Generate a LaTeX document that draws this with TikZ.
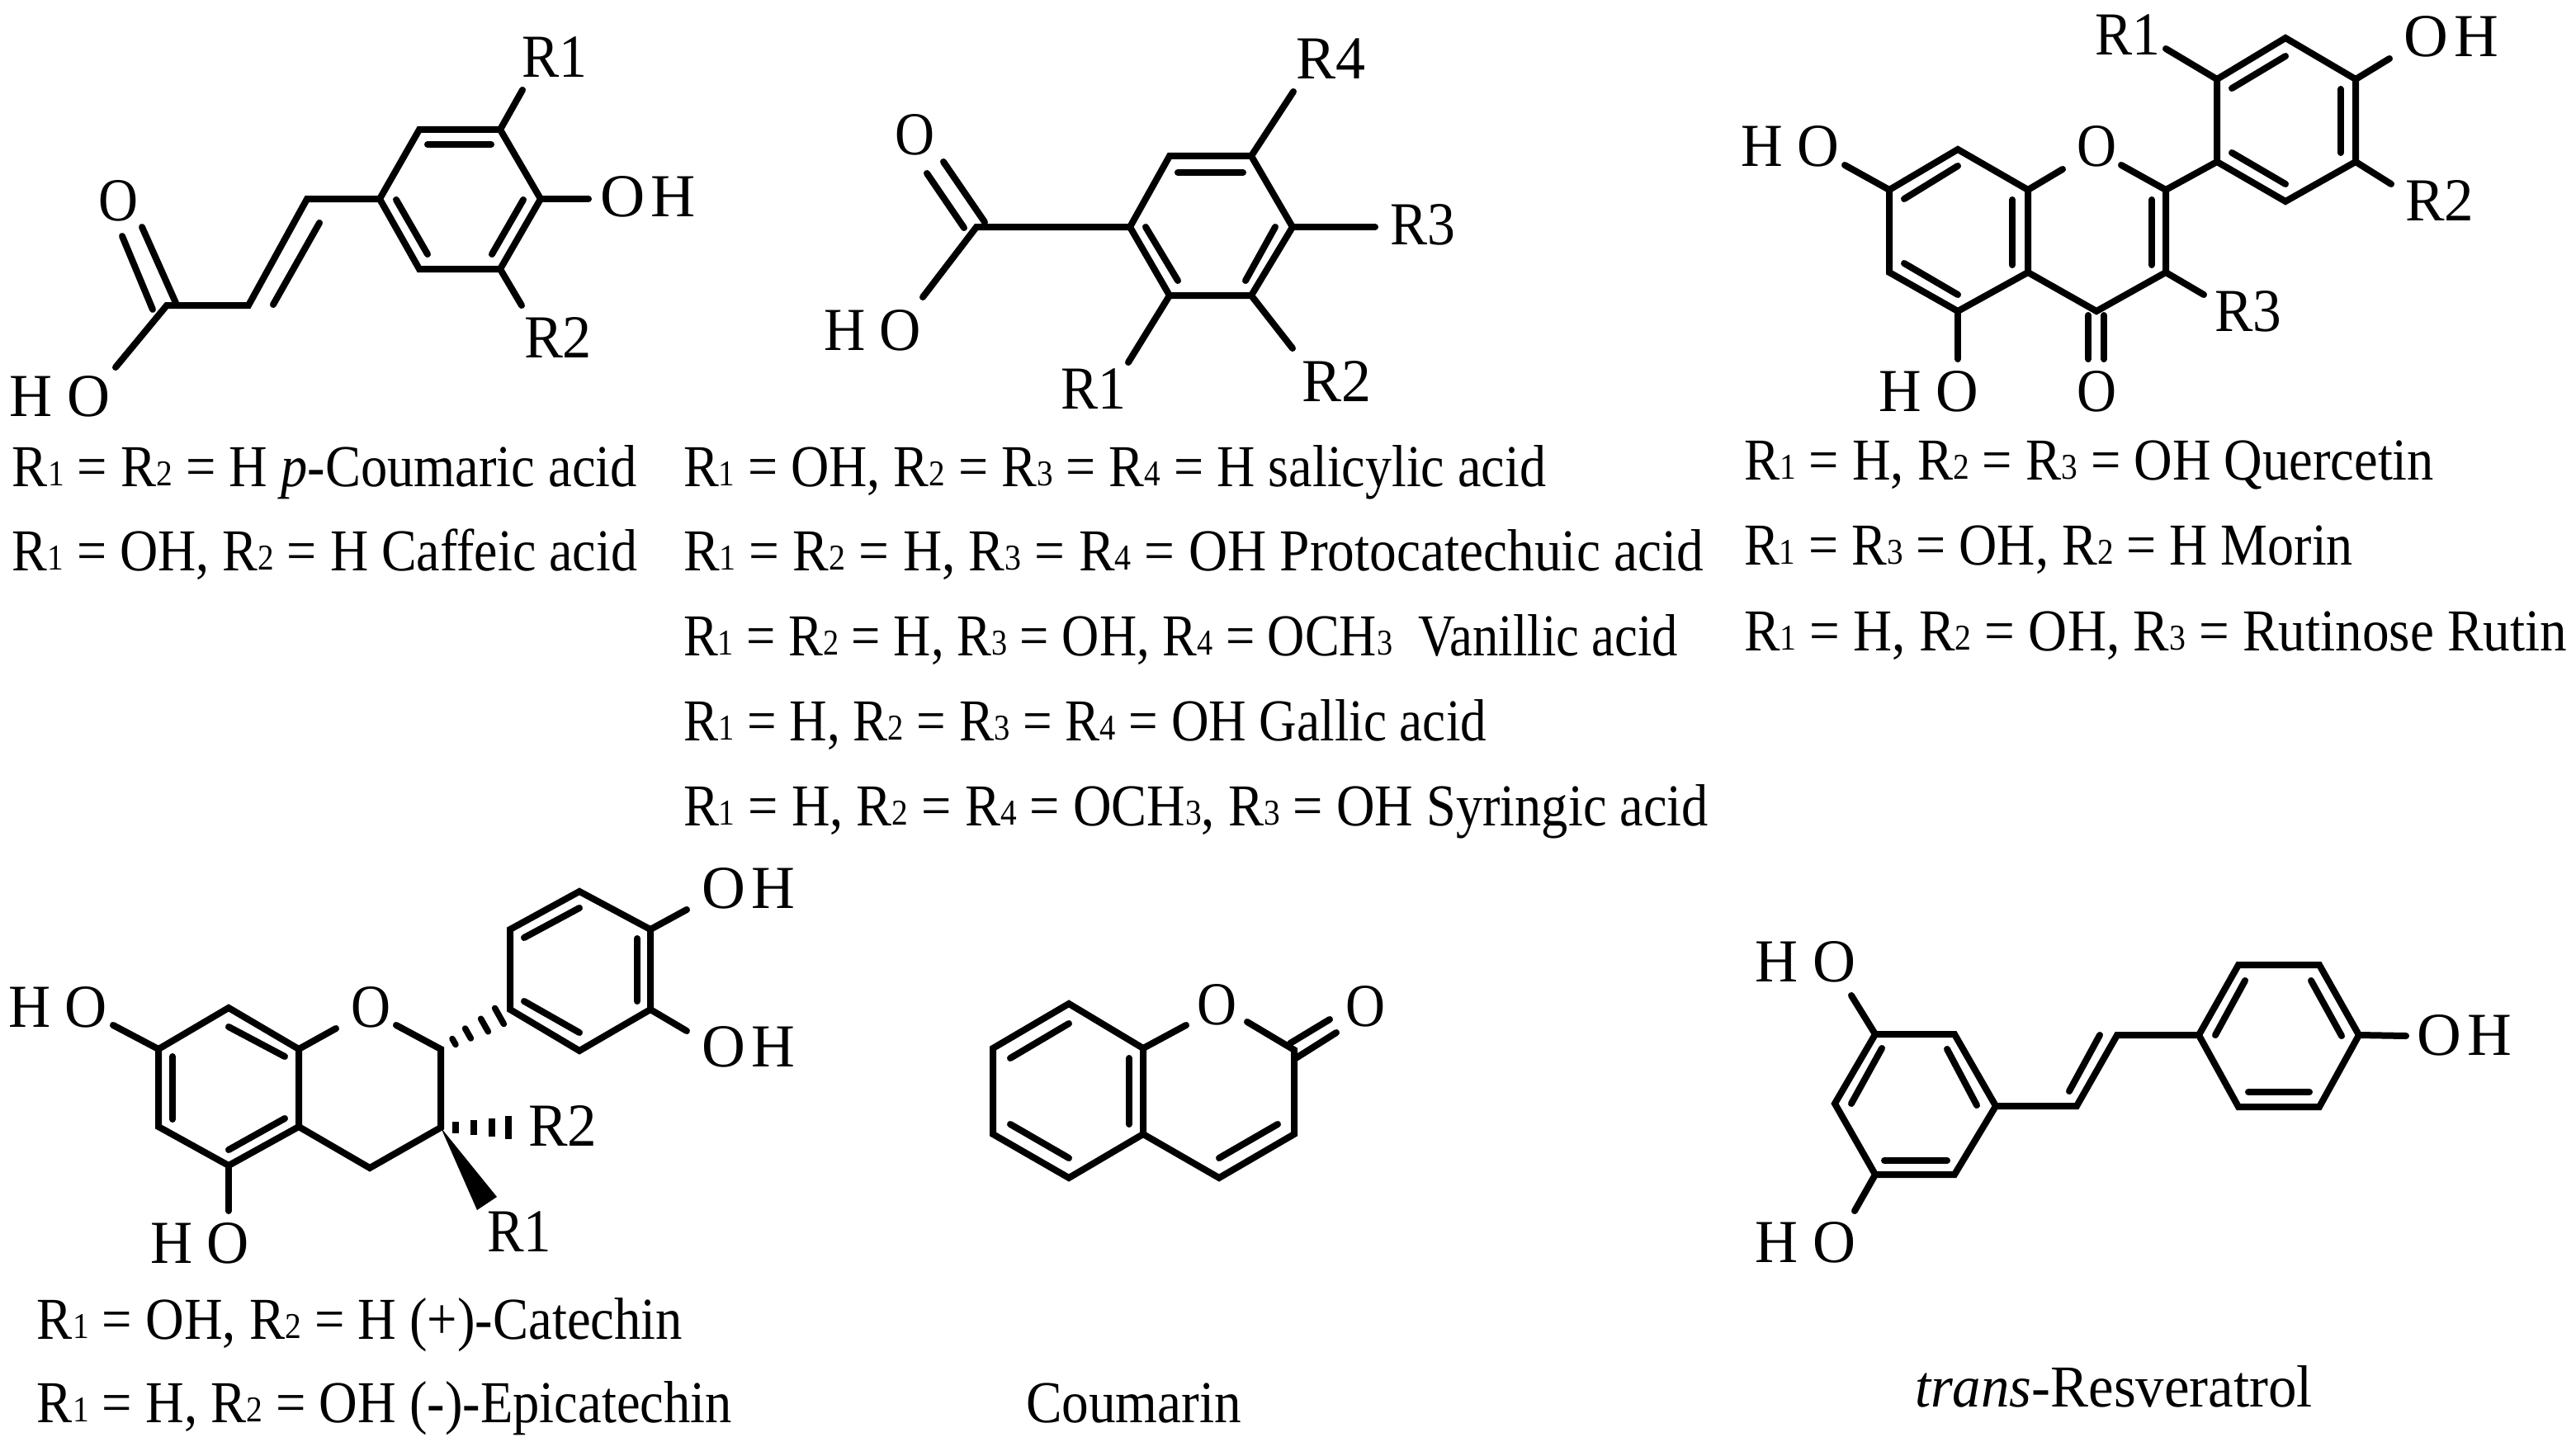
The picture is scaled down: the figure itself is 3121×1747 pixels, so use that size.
\documentclass[tikz,border=0pt]{standalone}
\usepackage{graphicx}
\usepackage{fontspec}
\setmainfont{Liberation Serif}
\tikzset{
  bondline/.style={line width=8pt,line cap=round,line join=miter,miter limit=10,black},
  hashline/.style={line width=7.5pt,line cap=butt,black},
  lab/.style={inner sep=0pt,outer sep=0pt,anchor=base west,yshift=1pt,font=\fontsize{74}{84}\selectfont},
  rowtext/.style={inner sep=0pt,outer sep=0pt,anchor=base west,font=\fontsize{72}{84}\selectfont}
}
\newcommand\sbs[1]{{\fontsize{44}{44}\selectfont\raisebox{1pt}{#1}}}
\newcommand\rr[1]{R\sbs{#1}}
\newcommand\OHs{O\kern.1em H}
\newcommand\atoms[1]{\foreach \n/\x/\y in {#1}{\coordinate (\n) at (\x,\y);}}
\newcommand\seg[5]{\coordinate (#1-s) at (#2,#3);\coordinate (#1-e) at (#4,#5);\draw[bondline] (#1-s) -- (#1-e);}
\newcommand\lbl[5]{\node[lab] (#1) at (#2,#3) {\resizebox{#4pt}{\height}{#5}};}
\newcommand\row[5]{\node[rowtext] (#1) at (#2,#3) {\resizebox{#4pt}{\height}{#5}};}
\begin{document}
\begin{tikzpicture}[x=1pt,y=-1pt]
\useasboundingbox (0,0) rectangle (3121,1747);
\fill[white] (0,0) rectangle (3121,1747);

% ---- molecule 1: hydroxycinnamic acids
\atoms{a1/508/157,a2/606/157,a3/655/241,a4/606/326,a5/508/326,a6/460/241,av1/372/241,av2/301/370,ac/202/370,ar1/633/109,ar2/632/370,aoh/713/241,aho/140/445}
\draw[bondline] (a1)--(a2)--(a3)--(a4)--(a5)--(a6)--cycle;
\draw[bondline] (a6)--(av1)--(av2)--(ac)--(aho);
\draw[bondline] (a2)--(ar1);
\draw[bondline] (a4)--(ar2);
\draw[bondline] (a3)--(aoh);
\seg{ai1}{518}{175}{595}{175}
\seg{ai2}{480}{242}{518}{308}
\seg{ai3}{634}{242}{596}{308}
\seg{ai4}{387}{270}{331}{369}
\seg{ai5}{148}{286}{185}{375}
\seg{ai6}{172}{275}{213}{367}
\lbl{aR1}{632}{95}{79}{R1}
\lbl{aR2}{635}{434}{82}{R2}
\lbl{aOH}{727}{263}{116}{\OHs}
\lbl{aO}{119}{268}{48}{O}
\lbl{aHO}{12}{505}{122}{H O}
\row{at1}{15}{589}{757}{\rr1 = \rr2 = H \textit{p}-Coumaric acid}
\row{at2}{15}{691}{757}{\rr1 = OH, \rr2 = H Caffeic acid}

% ---- molecule 2: hydroxybenzoic acids
\atoms{b1/1417/189,b2/1516/189,b3/1566/275,b4/1516/358,b5/1417/358,b6/1369/275,bc/1183/275,bho/1118/360,br4/1567/111,br3/1666/275,br2/1566/422,br1/1367/439}
\draw[bondline] (b1)--(b2)--(b3)--(b4)--(b5)--(b6)--cycle;
\draw[bondline] (b6)--(bc)--(bho);
\draw[bondline] (b2)--(br4);
\draw[bondline] (b3)--(br3);
\draw[bondline] (b4)--(br2);
\draw[bondline] (b5)--(br1);
\seg{bi1}{1427}{209}{1506}{209}
\seg{bi2}{1388}{275}{1427}{340}
\seg{bi3}{1545}{275}{1509}{340}
\seg{bi4}{1123}{210}{1168}{276}
\seg{bi5}{1143}{196}{1193}{269}
\lbl{bO}{1084}{189}{48}{O}
\lbl{bHO}{998}{425}{118}{H O}
\lbl{bR4}{1570}{97}{84}{R4}
\lbl{bR3}{1684}{297}{79}{R3}
\lbl{bR2}{1577}{487}{84}{R2}
\lbl{bR1}{1285}{496}{79}{R1}
\row{bt1}{828}{589}{1045}{\rr1 = OH, \rr2 = \rr3 = \rr4 = H salicylic acid}
\row{bt2}{828}{691}{1236}{\rr1 = \rr2 = H, \rr3 = \rr4 = OH Protocatechuic acid}
\row{bt3}{828}{794}{1205}{\rr1 = \rr2 = H, \rr3 = OH, \rr4 = OCH\sbs{3}\ \ Vanillic acid}
\row{bt4}{828}{897}{973}{\rr1 = H, \rr2 = \rr3 = \rr4 = OH Gallic acid}
\row{bt5}{828}{1000}{1242}{\rr1 = H, \rr2 = \rr4 = OCH\sbs{3}, \rr3 = OH Syringic acid}

% ---- molecule 3: flavonols
\atoms{c7/2289/230,c8/2372/181,c8a/2457/230,c4a/2457/330,c5/2372/377,c6/2289/330,c2/2624/230,c3/2624/330,c4/2540/377,co1/2499/205,co2/2570/200,d1/2686/196,d2/2686/96,d3/2769/46,d4/2854/96,d5/2854/196,d6/2769/244,cr1/2624/59,coh/2895/71,cr2/2897/223,cr3/2670/357,cho/2235/200,cho5/2372/435}
\draw[bondline] (c7)--(c8)--(c8a)--(c4a)--(c5)--(c6)--cycle;
\draw[bondline] (c4a)--(c4)--(c3)--(c2)--(co2);
\draw[bondline] (c8a)--(co1);
\draw[bondline] (d1)--(d2)--(d3)--(d4)--(d5)--(d6)--cycle;
\draw[bondline] (c2)--(d1);
\draw[bondline] (d2)--(cr1);
\draw[bondline] (d4)--(coh);
\draw[bondline] (d5)--(cr2);
\draw[bondline] (c3)--(cr3);
\draw[bondline] (c7)--(cho);
\draw[bondline] (c5)--(cho5);
\seg{ci1}{2530}{382}{2530}{435}
\seg{ci2}{2549}{382}{2549}{435}
\seg{ci3}{2307}{241}{2372}{201}
\seg{ci4}{2307}{319}{2372}{357}
\seg{ci5}{2438}{242}{2438}{321}
\seg{ci6}{2607}{242}{2607}{321}
\seg{ci7}{2704}{107}{2769}{68}
\seg{ci8}{2836}{108}{2836}{185}
\seg{ci9}{2704}{185}{2769}{223}
\lbl{cR1}{2538}{68}{79}{R1}
\lbl{cOH}{2912}{70}{115}{\OHs}
\lbl{cHO}{2109}{203}{119}{H O}
\lbl{cO}{2516}{203}{48}{O}
\lbl{cR2}{2914}{268}{83}{R2}
\lbl{cR3}{2683}{402}{81}{R3}
\lbl{cHOb}{2276}{499}{121}{H O}
\lbl{cOb}{2516}{499}{48}{O}
\row{ct1}{2113}{581}{836}{\rr1 = H, \rr2 = \rr3 = OH Quercetin}
\row{ct2}{2113}{684}{738}{\rr1 = \rr3 = OH, \rr2 = H Morin}
\row{ct3}{2113}{788}{997}{\rr1 = H, \rr2 = OH, \rr3 = Rutinose Rutin}

% ---- molecule 4: catechins
\atoms{e7/192/1271,e8/277/1221,e8a/362/1271,e4a/362/1365,e5/277/1412,e6/192/1365,eo1/407/1246,eo2/480/1242,e2/534/1271,e3/534/1366,e4/448/1415,f1/618/1223,f2/618/1126,f3/702/1080,f4/788/1126,f5/788/1223,f6/702/1273,foh1/832/1102,foh2/832/1249,eho7/137/1242,eho5/277/1467,ew1/602/1450,ew2/578/1466}
\draw[bondline] (e7)--(e8)--(e8a)--(e4a)--(e5)--(e6)--cycle;
\draw[bondline] (e4a)--(e4)--(e3)--(e2)--(eo2);
\draw[bondline] (e8a)--(eo1);
\draw[bondline] (f1)--(f2)--(f3)--(f4)--(f5)--(f6)--cycle;
\draw[bondline] (f4)--(foh1);
\draw[bondline] (f5)--(foh2);
\draw[bondline] (e7)--(eho7);
\draw[bondline] (e5)--(eho5);
\fill[black] (e3)--(ew1)--(ew2)--cycle;
\foreach \i/\x/\y/\dx/\dy in {1/550/1262/2/3.5,2/567/1252/3.4/6,3/587/1242/4.4/7.8,4/605/1231/5.4/9.6}{
  \draw[hashline,line cap=round] (\x-\dx,\y-\dy) -- (\x+\dx,\y+\dy);}
\foreach \i/\x/\h in {1/552/7,2/574/9,3/596/11,4/616/14}{
  \draw[hashline] (\x,1366-\h) -- (\x,1366+\h);}
\seg{ei1}{277}{1244}{345}{1280}
\seg{ei2}{209}{1280}{209}{1356}
\seg{ei3}{277}{1393}{345}{1355}
\seg{ei4}{635}{1136}{702}{1100}
\seg{ei5}{772}{1137}{772}{1213}
\seg{ei6}{635}{1213}{702}{1251}
\lbl{eHO}{10}{1245}{120}{H O}
\lbl{eO}{425}{1245}{48}{O}
\lbl{eOH1}{850}{1101}{113}{\OHs}
\lbl{eOH2}{850}{1293}{113}{\OHs}
\lbl{eR2}{640}{1389}{83}{R2}
\lbl{eR1}{590}{1517}{78}{R1}
\lbl{eHOb}{182}{1531}{120}{H O}
\row{et1}{45}{1622}{782}{\rr1 = OH, \rr2 = H (+)-Catechin}
\row{et2}{45}{1723}{842}{\rr1 = H, \rr2 = OH (-)-Epicatechin}

% ---- molecule 5: coumarin
\atoms{g1/1295/1216,g2/1203/1270,g3/1203/1374,g4/1295/1427,g5/1385/1374,g6/1385/1270,gc2/1568/1272,gc3/1568/1374,gc4/1477/1427,go1/1437/1242,go2/1511/1238}
\draw[bondline] (g1)--(g2)--(g3)--(g4)--(g5)--(g6)--cycle;
\draw[bondline] (g5)--(gc4)--(gc3)--(gc2)--(go2);
\draw[bondline] (g6)--(go1);
\seg{gi1}{1563}{1264}{1611}{1235}
\seg{gi2}{1570}{1282}{1619}{1251}
\seg{gi3}{1224}{1282}{1295}{1240}
\seg{gi4}{1224}{1362}{1295}{1403}
\seg{gi5}{1368}{1282}{1368}{1362}
\seg{gi6}{1477}{1403}{1548}{1362}
\lbl{gO}{1450}{1242}{48}{O}
\lbl{gOd}{1630}{1244}{48}{O}
\row{gt}{1243}{1723}{261}{Coumarin}

% ---- molecule 6: resveratrol
\atoms{h1/2272/1253,h2/2368/1253,h3/2418/1340,h4/2368/1423,h5/2272/1423,h6/2223/1337,hv1/2516/1340,hv2/2565/1254,k1/2664/1254,k2/2712/1169,k3/2810/1169,k4/2858/1254,k5/2810/1341,k6/2712/1341,koh/2915/1255,hho1/2243/1206,hho2/2247/1467}
\draw[bondline] (h1)--(h2)--(h3)--(h4)--(h5)--(h6)--cycle;
\draw[bondline] (h3)--(hv1)--(hv2)--(k1);
\draw[bondline] (k1)--(k2)--(k3)--(k4)--(k5)--(k6)--cycle;
\draw[bondline] (k4)--(koh);
\draw[bondline] (h1)--(hho1);
\draw[bondline] (h5)--(hho2);
\seg{hi1}{2280}{1270}{2243}{1337}
\seg{hi2}{2359}{1271}{2395}{1339}
\seg{hi3}{2283}{1406}{2359}{1406}
\seg{hi4}{2544}{1254}{2507}{1322}
\seg{hi5}{2720}{1188}{2684}{1254}
\seg{hi6}{2800}{1188}{2837}{1255}
\seg{hi7}{2724}{1323}{2798}{1323}
\lbl{hHO1}{2126}{1190}{122}{H O}
\lbl{hHO2}{2126}{1530}{122}{H O}
\lbl{hOH}{2928}{1279}{115}{\OHs}
\row{ht}{2320}{1704}{482}{\textit{trans}-Resveratrol}
\end{tikzpicture}
\end{document}
